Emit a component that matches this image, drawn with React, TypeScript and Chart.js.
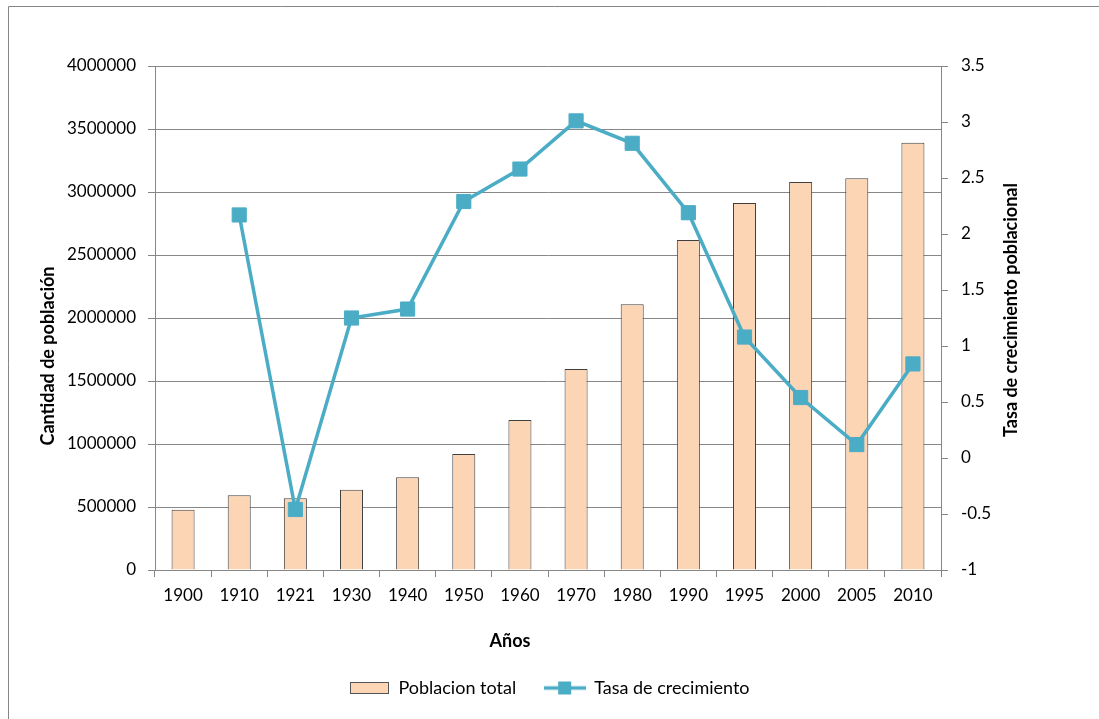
import React, { useEffect, useRef } from 'react';
import { Chart, registerables } from 'chart.js';

Chart.register(...registerables);

const years = ['1900', '1910', '1921', '1930', '1940', '1950', '1960', '1970', '1980', '1990', '1995', '2000', '2005', '2010'];
const population = [478000, 594000, 570000, 637000, 737000, 920000, 1190000, 1596000, 2110000, 2620000, 2912000, 3080000, 3110000, 3390000];
const growthRate = [null, 2.17, -0.46, 1.25, 1.33, 2.29, 2.58, 3.01, 2.81, 2.19, 1.08, 0.54, 0.12, 0.84];
const leftAxis = [0, 4000000, 500000];
const rightAxis = [-1, 3.5, 0.5];
const seriesNames = ['Poblacion total', 'Tasa de crecimiento'];
const axisTitles = ['Años', 'Cantidad de población', 'Tasa de crecimiento poblacional'];

const FONT = 'Lato';
const BAR_FILL = '#FCD5B5';
const BAR_EDGE = '#404040';
const LINE = '#4BACC6';
const GRID = '#878787';

function makeBarIcon() {
  const c = document.createElement('canvas');
  c.width = 39; c.height = 12;
  const x = c.getContext('2d')!;
  x.fillStyle = BAR_FILL;
  x.fillRect(0.5, 0.5, 38, 11);
  x.strokeStyle = '#555';
  x.lineWidth = 1;
  x.strokeRect(0.5, 0.5, 38, 11);
  return c;
}
function makeLineIcon() {
  const c = document.createElement('canvas');
  c.width = 42; c.height = 15;
  const x = c.getContext('2d')!;
  x.strokeStyle = LINE;
  x.lineWidth = 3.5;
  x.beginPath(); x.moveTo(0, 7.5); x.lineTo(42, 7.5); x.stroke();
  x.fillStyle = LINE;
  x.fillRect(14, 1, 13, 13);
  return c;
}

const decor = {
  id: 'decor',
  beforeDraw(chart: any) {
    const ctx = chart.ctx;
    ctx.save();
    ctx.strokeStyle = '#868686';
    ctx.lineWidth = 1;
    ctx.beginPath();
    ctx.moveTo(8.5, chart.height + 5);
    ctx.lineTo(8.5, 6.5);
    ctx.lineTo(chart.width + 5, 6.5);
    ctx.stroke();
    ctx.restore();
  },
  afterDraw(chart: any) {
    const ctx = chart.ctx;
    const a = chart.chartArea;
    ctx.save();
    ctx.fillStyle = '#000';
    ctx.font = `bold 18px ${FONT}`;
    ctx.textAlign = 'center';
    ctx.textBaseline = 'middle';
    ctx.fillText(axisTitles[0], (a.left + a.right) / 2 - 38, a.bottom + 71);
    ctx.save();
    ctx.translate(a.left - 107, a.bottom - 214);
    ctx.rotate(-Math.PI / 2);
    ctx.fillText(axisTitles[1], 0, 0);
    ctx.restore();
    ctx.save();
    ctx.translate(a.right + 70, a.bottom - 260);
    ctx.rotate(-Math.PI / 2);
    ctx.fillText(axisTitles[2], 0, 0);
    ctx.restore();
    ctx.restore();
  },
};

export default function App() {
  const ref = useRef<HTMLCanvasElement>(null);
  useEffect(() => {
    const barIcon = makeBarIcon();
    const lineIcon = makeLineIcon();
    const chart = new Chart(ref.current!, {
      type: 'bar',
      data: {
        labels: years,
        datasets: [
          {
            type: 'bar',
            label: seriesNames[0],
            data: population,
            backgroundColor: BAR_FILL,
            borderColor: BAR_EDGE,
            borderWidth: 1,
            barPercentage: 0.41,
            categoryPercentage: 1,
            yAxisID: 'y',
            order: 1,
          },
          {
            type: 'line',
            label: seriesNames[1],
            data: growthRate as any,
            borderColor: LINE,
            backgroundColor: LINE,
            borderWidth: 3.5,
            pointStyle: 'rect',
            pointRadius: 10,
            pointBorderWidth: 1,
            pointBackgroundColor: LINE,
            pointBorderColor: LINE,
            tension: 0,
            yAxisID: 'y1',
            order: 0,
          },
        ],
      },
      options: {
        responsive: false,
        animation: false,
        layout: { padding: { top: 66, left: 0, right: 0, bottom: 12 } },
        plugins: {
          tooltip: { enabled: false },
          legend: {
            position: 'bottom',
            labels: {
              sort: (a: any, b: any) => a.datasetIndex - b.datasetIndex,
              usePointStyle: true,
              pointStyleWidth: 40,
              boxHeight: 13,
              padding: 29,
              color: '#000',
              font: { family: FONT, size: 18 },
              generateLabels: (ch: any) => {
                const items = (Chart.defaults.plugins.legend.labels as any).generateLabels(ch);
                return items.map((it: any) => ({ ...it, pointStyle: it.datasetIndex === 0 ? barIcon : lineIcon }));
              },
            },
          },
        },
        scales: {
          x: {
            type: 'category',
            offset: true,
            grid: { offset: true, drawOnChartArea: false, drawTicks: true, tickLength: 7, color: GRID },
            border: { color: GRID },
            ticks: { color: '#000', padding: 8, font: { family: FONT, size: 17 }, maxRotation: 0, autoSkip: false },
            afterFit: (s: any) => { s.height = 80; },
          },
          y: {
            type: 'linear',
            position: 'left',
            min: leftAxis[0],
            max: leftAxis[1],
            grid: { color: GRID, tickLength: 7 },
            border: { color: GRID },
            ticks: {
              stepSize: leftAxis[2],
              color: '#000',
              padding: 12,
              font: { family: FONT, size: 17 },
              callback: (v: any) => String(v),
            },
            afterFit: (s: any) => { s.width = 155; },
          },
          y1: {
            type: 'linear',
            position: 'right',
            min: rightAxis[0],
            max: rightAxis[1],
            grid: { drawOnChartArea: false, color: GRID, tickLength: 7 },
            border: { color: GRID },
            ticks: {
              stepSize: rightAxis[2],
              color: '#000',
              padding: 13,
              font: { family: FONT, size: 17 },
              callback: (v: any) => String(v),
            },
            afterFit: (s: any) => { s.width = 158; },
          },
        },
      },
      plugins: [decor],
    });
    return () => chart.destroy();
  }, []);
  return (
    <div style={{ position: 'fixed', left: 0, top: 0, width: 1099, height: 719, background: '#fff' }}>
      <canvas ref={ref} width={1099} height={719} />
    </div>
  );
}
